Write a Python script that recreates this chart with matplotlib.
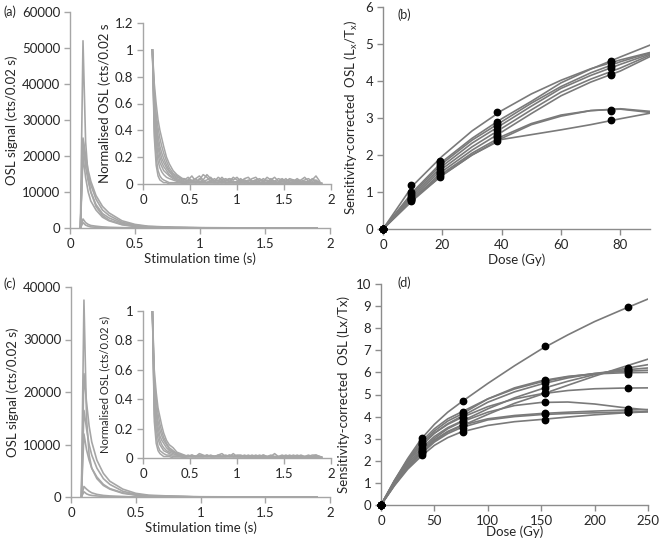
import numpy as np
import matplotlib
matplotlib.use("Agg")
import matplotlib.pyplot as plt
from matplotlib.ticker import FuncFormatter

plt.rcParams['font.family'] = ['Lato', 'DejaVu Sans']
plt.rcParams['font.size'] = 9.5
TXT = '#262626'

# ---------------- data: panel (a) ----------------
t_main = [0.08, 0.1, 0.12, 0.14, 0.16, 0.2, 0.25, 0.3, 0.4, 0.5, 0.6, 0.8, 1.0, 1.5, 1.9]
a_main = [
    [0, 52000, 24000, 14000, 10000, 6000, 3500, 2200, 1000, 500, 300, 100, 50, 0, 0],
    [0, 25000, 20000, 16000, 13000, 9000, 6000, 4200, 2000, 1000, 500, 200, 100, 0, 0],
    [0, 24500, 19000, 15000, 12000, 8000, 5000, 3500, 1600, 800, 400, 150, 50, 0, 0],
    [0, 24000, 17000, 13000, 10000, 6500, 4000, 2800, 1300, 600, 300, 100, 50, 0, 0],
    [0, 20000, 14000, 10000, 7500, 5000, 3000, 2000, 900, 400, 200, 100, 0, 0, 0],
    [0, 2500, 1500, 1000, 700, 500, 300, 200, 100, 50, 0, 0, 0, 0, 0],
    [0, 1500, 800, 500, 300, 200, 100, 50, 0, 0, 0, 0, 0, 0, 0],
]
t_head = [0.1, 0.12, 0.14, 0.16, 0.18, 0.2, 0.22, 0.25, 0.28, 0.32, 0.36, 0.4]
a_head = [
    [1, 0.75, 0.6, 0.48, 0.4, 0.34, 0.28, 0.2, 0.15, 0.1, 0.07, 0.05],
    [1, 0.7, 0.52, 0.42, 0.34, 0.28, 0.23, 0.17, 0.12, 0.08, 0.06, 0.04],
    [1, 0.65, 0.47, 0.36, 0.28, 0.23, 0.19, 0.14, 0.1, 0.07, 0.05, 0.04],
    [1, 0.6, 0.42, 0.31, 0.24, 0.19, 0.16, 0.12, 0.09, 0.06, 0.04, 0.03],
    [1, 0.55, 0.37, 0.27, 0.2, 0.16, 0.13, 0.1, 0.07, 0.05, 0.03, 0.02],
    [1, 0.5, 0.32, 0.22, 0.16, 0.13, 0.1, 0.08, 0.06, 0.04, 0.03, 0.02],
    [1, 0.45, 0.27, 0.17, 0.12, 0.09, 0.07, 0.05, 0.04, 0.03, 0.02, 0.01],
    [1, 0.4, 0.2, 0.1, 0.06, 0.04, 0.03, 0.02, 0.01, 0.01, 0.01, 0.01],
    [1, 0.35, 0.14, 0.06, 0.03, 0.02, 0.01, 0.01, 0.0, 0.0, 0.0, 0.0],
]
a_tail = [
    [0.03, 0.05, 0.02, 0.04, 0.06, 0.03, 0.07, 0.04, 0.02, 0.05, 0.03, 0.04, 0.02, 0.05, 0.03, 0.02, 0.04, 0.05, 0.02,
     0.03, 0.04, 0.02, 0.05, 0.03, 0.02, 0.04, 0.03, 0.02, 0.04, 0.03, 0.02, 0.03, 0.05, 0.02, 0.03, 0.06, 0.02],
    [0.02, 0.03, 0.06, 0.02, 0.03, 0.07, 0.05, 0.02, 0.04, 0.02, 0.05, 0.02, 0.04, 0.03, 0.05, 0.02, 0.03, 0.02, 0.04,
     0.05, 0.02, 0.04, 0.02, 0.03, 0.05, 0.02, 0.04, 0.02, 0.03, 0.02, 0.04, 0.02, 0.03, 0.04, 0.02, 0.03, 0.01],
    [0.04, 0.02, 0.03, 0.01, 0.04, 0.02, 0.03, 0.05, 0.02, 0.03, 0.01, 0.03, 0.04, 0.01, 0.02, 0.04, 0.01, 0.03, 0.02,
     0.01, 0.03, 0.02, 0.01, 0.04, 0.02, 0.01, 0.02, 0.04, 0.01, 0.02, 0.03, 0.01, 0.02, 0.01, 0.04, 0.02, 0.01],
    [0.01, 0.03, 0.02, 0.04, 0.01, 0.02, 0.01, 0.03, 0.02, 0.01, 0.03, 0.01, 0.02, 0.02, 0.01, 0.03, 0.02, 0.01, 0.02,
     0.03, 0.01, 0.02, 0.03, 0.01, 0.02, 0.01, 0.03, 0.01, 0.02, 0.03, 0.01, 0.02, 0.01, 0.02, 0.01, 0.02, 0.01],
    [0.02, 0.01, 0.02, 0.01, 0.02, 0.02, 0.01, 0.02, 0.01, 0.01, 0.02, 0.01, 0.01, 0.02, 0.01, 0.01, 0.02, 0.01, 0.01,
     0.02, 0.01, 0.01, 0.01, 0.02, 0.01, 0.01, 0.02, 0.01, 0.01, 0.01, 0.02, 0.01, 0.01, 0.02, 0.01, 0.01, 0.01],
]
a_tail_flat = [0.01, 0.01, 0.005, 0.005]   # at t = 0.5, 1.0, 1.5, 1.9
t_flat = [0.5, 1.0, 1.5, 1.9]

# ---------------- data: panel (c) ----------------
c_main = [
    [0, 37500, 15000, 8000, 5500, 3500, 2200, 1500, 700, 350, 200, 100, 0, 0, 0],
    [0, 23500, 18000, 13500, 10500, 7000, 4500, 3000, 1500, 700, 350, 150, 50, 0, 0],
    [0, 16500, 13000, 10000, 8000, 5500, 3500, 2400, 1100, 500, 250, 100, 0, 0, 0],
    [0, 12000, 9000, 7000, 5500, 3800, 2400, 1600, 800, 400, 200, 100, 0, 0, 0],
    [0, 2000, 1500, 1100, 800, 500, 300, 200, 100, 0, 0, 0, 0, 0, 0],
    [0, 1000, 600, 400, 300, 200, 100, 50, 0, 0, 0, 0, 0, 0, 0],
]
c_head = [
    [1, 0.6, 0.45, 0.34, 0.28, 0.22, 0.17, 0.12, 0.09, 0.07, 0.04, 0.03],
    [1, 0.55, 0.4, 0.3, 0.23, 0.18, 0.14, 0.1, 0.07, 0.05, 0.03, 0.02],
    [1, 0.5, 0.34, 0.25, 0.19, 0.15, 0.12, 0.09, 0.06, 0.04, 0.03, 0.02],
    [1, 0.45, 0.3, 0.21, 0.15, 0.12, 0.1, 0.07, 0.05, 0.04, 0.03, 0.02],
    [1, 0.4, 0.25, 0.17, 0.12, 0.09, 0.07, 0.05, 0.04, 0.03, 0.02, 0.02],
    [1, 0.35, 0.2, 0.13, 0.09, 0.07, 0.05, 0.04, 0.03, 0.02, 0.02, 0.01],
    [1, 0.3, 0.15, 0.08, 0.05, 0.04, 0.03, 0.02, 0.02, 0.01, 0.01, 0.01],
    [1, 0.25, 0.1, 0.05, 0.03, 0.02, 0.01, 0.01, 0.01, 0.0, 0.0, 0.0],
]
c_tail = [
    [0.02, 0.01, 0.02, 0.01, 0.03, 0.02, 0.01, 0.02, 0.01, 0.02, 0.03, 0.01, 0.02, 0.01, 0.02, 0.02, 0.01, 0.02, 0.01,
     0.02, 0.01, 0.02, 0.01, 0.01, 0.03, 0.01, 0.02, 0.01, 0.02, 0.01, 0.01, 0.02, 0.01, 0.02, 0.01, 0.02, 0.01],
    [0.01, 0.02, 0.01, 0.01, 0.02, 0.01, 0.02, 0.01, 0.01, 0.02, 0.01, 0.02, 0.01, 0.03, 0.01, 0.01, 0.02, 0.01, 0.02,
     0.01, 0.01, 0.02, 0.01, 0.02, 0.01, 0.01, 0.01, 0.02, 0.01, 0.01, 0.02, 0.01, 0.01, 0.01, 0.02, 0.02, 0.01],
    [0.01, 0.01, 0.02, 0.01, 0.01, 0.01, 0.02, 0.01, 0.01, 0.01, 0.01, 0.01, 0.02, 0.01, 0.01, 0.01, 0.01, 0.01, 0.01,
     0.01, 0.02, 0.01, 0.01, 0.01, 0.01, 0.01, 0.01, 0.01, 0.01, 0.02, 0.01, 0.01, 0.01, 0.01, 0.01, 0.01, 0.01],
]
tail_t0, tail_dt = 0.44, 0.04

# ---------------- data: panel (b) ----------------
b_dose_pts = [0, 9.6, 19.3, 38.5, 77]
b_pts = [
    [0, 1.18, 1.85, 3.15, 4.55],
    [0, 1.0, 1.8, 2.9, 4.5],
    [0, 0.95, 1.75, 2.85, 4.4],
    [0, 0.9, 1.7, 2.78, 4.35],
    [0, 0.85, 1.62, 2.68, 4.2],
    [0, 0.8, 1.55, 2.58, 4.15],
    [0, 0.78, 1.5, 2.5, 3.22],
    [0, 0.75, 1.45, 2.45, 3.2],
    [0, 0.82, 1.4, 2.38, 2.95],
]
b_dose_fit = [0, 10, 20, 30, 40, 50, 60, 70, 80, 90]
b_fit = [
    [0, 1.17, 1.97, 2.65, 3.2, 3.65, 4.02, 4.33, 4.57, 4.77],
    [0, 1.0, 1.82, 2.45, 2.98, 3.45, 3.95, 4.32, 4.65, 4.97],
    [0, 0.95, 1.77, 2.4, 2.9, 3.4, 3.85, 4.22, 4.52, 4.76],
    [0, 0.9, 1.7, 2.32, 2.82, 3.32, 3.8, 4.15, 4.45, 4.73],
    [0, 0.85, 1.63, 2.22, 2.72, 3.22, 3.7, 4.05, 4.35, 4.7],
    [0, 0.8, 1.56, 2.13, 2.62, 3.12, 3.6, 3.97, 4.27, 4.66],
    [0, 0.8, 1.5, 2.05, 2.5, 2.85, 3.08, 3.2, 3.25, 3.18],
    [0, 0.77, 1.46, 2.0, 2.45, 2.82, 3.05, 3.2, 3.24, 3.15],
    [0, 0.82, 1.45, 2.0, 2.42, 2.55, 2.68, 2.82, 2.98, 3.13],
]

# ---------------- data: panel (d) ----------------
d_dose_pts = [0, 38.5, 77, 154, 231]
d_pts = [
    [0, 3.05, 4.72, 7.2, 8.95],
    [0, 2.4, 3.6, 5.05, 6.2],
    [0, 2.6, 3.8, 5.3, 6.1],
    [0, 2.9, 4.2, 5.6, 6.0],
    [0, 2.8, 4.1, 5.65, 5.95],
    [0, 2.7, 4.0, 5.5, 6.1],
    [0, 2.75, 3.95, 5.05, 5.3],
    [0, 2.5, 3.75, 4.65, 4.35],
    [0, 2.45, 3.6, 4.15, 4.3],
    [0, 2.35, 3.5, 4.1, 4.2],
    [0, 2.25, 3.3, 3.85, 4.2],
]
d_dose_fit = [0, 12.5, 25, 37.5, 50, 62.5, 75, 100, 125, 150, 175, 200, 225, 250]
d_fit = [
    [0, 1.1, 2.1, 2.98, 3.65, 4.2, 4.65, 5.5, 6.3, 7.05, 7.7, 8.3, 8.82, 9.32],
    [0, 0.9, 1.7, 2.35, 2.9, 3.3, 3.57, 4.1, 4.6, 5.0, 5.42, 5.83, 6.22, 6.6],
    [0, 1.0, 1.85, 2.55, 3.1, 3.5, 3.78, 4.35, 4.85, 5.25, 5.6, 5.9, 6.15, 6.35],
    [0, 1.1, 2.05, 2.85, 3.45, 3.9, 4.2, 4.8, 5.25, 5.57, 5.8, 5.95, 6.04, 6.1],
    [0, 1.07, 2.0, 2.75, 3.35, 3.8, 4.1, 4.8, 5.3, 5.62, 5.82, 5.93, 5.98, 6.0],
    [0, 1.03, 1.93, 2.66, 3.25, 3.68, 4.0, 4.65, 5.12, 5.47, 5.75, 5.95, 6.1, 6.2],
    [0, 1.05, 1.95, 2.7, 3.25, 3.65, 3.95, 4.45, 4.8, 5.03, 5.18, 5.26, 5.29, 5.3],
    [0, 0.95, 1.78, 2.45, 3.02, 3.45, 3.75, 4.2, 4.5, 4.64, 4.66, 4.57, 4.42, 4.3],
    [0, 0.95, 1.75, 2.4, 2.95, 3.33, 3.6, 3.9, 4.05, 4.14, 4.2, 4.25, 4.29, 4.32],
    [0, 0.9, 1.68, 2.3, 2.85, 3.23, 3.5, 3.85, 4.0, 4.09, 4.14, 4.17, 4.2, 4.22],
    [0, 0.87, 1.62, 2.2, 2.7, 3.05, 3.3, 3.6, 3.77, 3.87, 3.98, 4.08, 4.16, 4.22],
]

# ---------------- figure ----------------
W, H = 660, 543
fig = plt.figure(figsize=(W / 100, H / 100), dpi=100)


def rect(l, r, t, b):
    return [l / W, 1 - b / H, (r - l) / W, (b - t) / H]


fmt = FuncFormatter(lambda v, p: f"{v:g}")


def style(ax, spine_col):
    for s in ('top', 'right'):
        ax.spines[s].set_visible(False)
    for s in ('left', 'bottom'):
        ax.spines[s].set_color(spine_col)
        ax.spines[s].set_linewidth(1.0)
    ax.tick_params(axis='both', direction='out', length=4, width=1.0,
                   color=spine_col, labelcolor=TXT, labelsize=9.5, pad=3)
    ax.xaxis.set_major_formatter(fmt)
    ax.yaxis.set_major_formatter(fmt)
    ax.set_facecolor('none')


LC = '#a6a6a6'
DC = '#7a7a7a'


def tail_t(vals):
    return [tail_t0 + tail_dt * i for i in range(len(vals))]


def decay_panel(rect_main, rect_inset, main_data, ymax_main, head, tail, ymax_in, yl_in, yl_in_size):
    ax = fig.add_axes(rect_main)
    style(ax, '#a6a6a6')
    for s in main_data:
        ax.plot(t_main, s, color=LC, lw=1.2)
    ax.set_xlim(0, 2)
    ax.set_ylim(0, ymax_main)
    ax.set_xticks([0, 0.5, 1, 1.5, 2])
    ax.set_yticks(np.arange(0, ymax_main + 1, 10000))
    ax.set_ylabel('OSL signal (cts/0.02 s)', color=TXT, fontsize=9.5, labelpad=3)
    ax.set_xlabel('Stimulation time (s)', color=TXT, fontsize=9.5, labelpad=2)

    ai = fig.add_axes(rect_inset)
    style(ai, '#a6a6a6')
    for i, h in enumerate(head):
        if i < len(tail):
            ai.plot(list(t_head) + tail_t(tail[i]), list(h) + list(tail[i]), color=LC, lw=1.1)
        else:
            ai.plot(list(t_head) + t_flat, list(h) + a_tail_flat, color=LC, lw=1.1)
    ai.set_xlim(0, 2)
    ai.set_ylim(0, ymax_in)
    ai.set_xticks([0, 0.5, 1, 1.5, 2])
    ai.set_yticks(np.arange(0, ymax_in + 0.01, 0.2))
    ai.set_ylabel(yl_in, color=TXT, fontsize=yl_in_size, labelpad=3)
    return ax, ai


ax_a, ai_a = decay_panel(rect(70, 330, 12, 228), rect(143, 331, 23, 184), a_main, 60000,
                         a_head, a_tail, 1.2, 'Normalised OSL (cts/0.02 s', 9.5)
ax_c, ai_c = decay_panel(rect(71, 330, 287, 497), rect(143, 331, 311, 458), c_main, 40000,
                         c_head, c_tail, 1.0, 'Normalised OSL (cts/0.02 s)', 8.0)


def growth_panel(r, dose_fit, fits, dose_pts, pts, xmax, xticks, ymax, ylabel):
    ax = fig.add_axes(r)
    style(ax, '#8c8c8c')
    for f in fits:
        ax.plot(dose_fit, f, color=DC, lw=1.2)
    for p in pts:
        ax.plot(dose_pts, p, linestyle='none', marker='o', ms=4.6, color='black', clip_on=False, zorder=5)
    ax.set_xlim(0, xmax)
    ax.set_ylim(0, ymax)
    ax.set_xticks(xticks)
    ax.set_yticks(np.arange(0, ymax + 1, 1))
    ax.set_ylabel(ylabel, color=TXT, fontsize=9.5, labelpad=4)
    return ax


ax_b = growth_panel(rect(383, 650, 7, 229), b_dose_fit, b_fit, b_dose_pts, b_pts, 90,
                    [0, 20, 40, 60, 80], 6, 'Sensitivity-corrected  OSL (L$_\\mathregular{x}$/T$_\\mathregular{x}$)')
ax_b.set_xlabel('Dose (Gy)', color=TXT, fontsize=9.5, labelpad=2)
ax_d = growth_panel(rect(381, 648, 284, 505), d_dose_fit, d_fit, d_dose_pts, d_pts, 250,
                    [0, 50, 100, 150, 200, 250], 10, 'Sensitivity-corrected  OSL (Lx/Tx)')
ax_d.set_xlabel('Dose (Gy)', color=TXT, fontsize=9.5, labelpad=-1)

for txt, x, y in [('(a)', 3, 12), ('(b)', 397, 15), ('(c)', 3, 284), ('(d)', 397, 283)]:
    fig.text(x / W, 1 - y / H, txt, color=TXT, fontsize=9, va='center', ha='left')

fig.savefig('out.png', dpi=100)
